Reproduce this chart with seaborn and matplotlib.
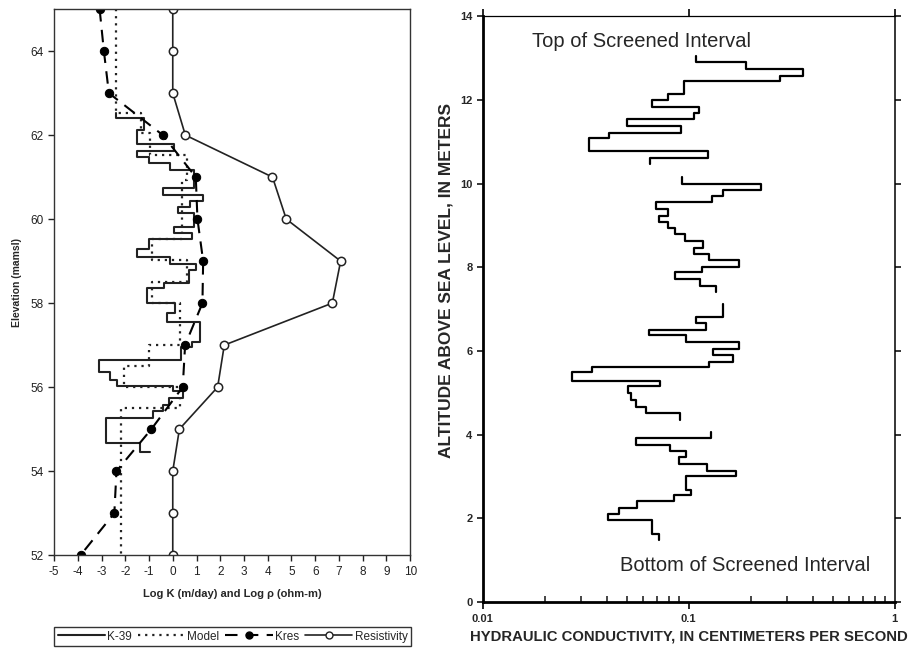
import numpy as np
import pandas as pd
import matplotlib
matplotlib.use("Agg")
import matplotlib.pyplot as plt
from matplotlib.lines import Line2D
from matplotlib.ticker import FixedLocator, FixedFormatter, NullFormatter, LogLocator
import seaborn as sns

# ---------------- data: left panel ----------------
elev_pts = [65, 64, 63, 62, 61, 60, 59, 58, 57, 56, 55, 54, 53, 52]
kres = [-3.08, -2.9, -2.69, -0.42, 0.97, 1.04, 1.28, 1.25, 0.52, 0.42, -0.9, -2.37, -2.46, -3.88]
resistivity = [0.0, 0.0, 0.0, 0.53, 4.2, 4.78, 7.07, 6.72, 2.17, 1.89, 0.28, 0.0, 0.0, 0.0]

k39_bounds = [62.53, 62.41, 62.13, 61.80, 61.63, 61.47, 61.33, 61.17, 60.75, 60.57,
              60.43, 60.28, 60.14, 59.82, 59.68, 59.52, 59.30, 59.10, 58.92, 58.80,
              58.47, 58.35, 58.00, 57.76, 57.56, 57.08, 56.95, 56.65, 56.35, 56.18,
              56.02, 55.90, 55.74, 55.57, 55.43, 55.26, 54.66, 54.45, 54.45]
k39_logk = [-2.41, -1.22, -1.5, 0.04, -1.5, -0.98, -0.1, 0.88, -0.42, 1.28,
            0.72, 0.2, 0.88, 0.04, 0.81, -0.98, -1.5, -0.1, 0.99, 0.69,
            -0.37, -1.1, 0.08, -0.24, 1.13, 0.8, 0.35, -3.12, -2.65, -2.35,
            0.0, 0.45, -0.15, -0.4, -0.85, -2.8, -1.4, -0.94]

model_bounds = [65.0, 62.53, 62.06, 61.53, 60.94, 59.52, 59.03, 58.5, 58.0, 57.0, 56.5, 56.0, 55.5, 52.0]
model_logk = [-2.41, -1.35, -0.96, 0.6, 0.4, -0.87, 0.6, -0.87, 0.32, -0.98, -2.06, 0.3, -2.2]

# ---------------- data: right panel ----------------
run1_bounds = [13.05, 12.90, 12.75, 12.57, 12.45, 12.13, 11.99, 11.83, 11.68, 11.54, 11.38, 11.22, 11.10, 10.78, 10.62, 10.46]
run1_k = [0.108, 0.190, 0.359, 0.279, 0.0948, 0.0794, 0.0664, 0.1117, 0.106, 0.050, 0.092, 0.0408, 0.0327, 0.124, 0.0646]

run2_bounds = [10.16, 10.0, 9.84, 9.71, 9.55, 9.39, 9.23, 9.09, 8.95, 8.79, 8.63, 8.47, 8.31, 8.17, 8.01, 7.88, 7.72, 7.56, 7.40]
run2_k = [0.093, 0.225, 0.146, 0.130, 0.069, 0.0794, 0.0717, 0.0794, 0.0854, 0.0954, 0.117, 0.106, 0.125, 0.175, 0.116, 0.0854, 0.113, 0.136]

run3_bounds = [7.12, 6.82, 6.66, 6.50, 6.37, 6.21, 6.05, 5.90, 5.74, 5.61, 5.49, 5.29, 5.15, 4.99, 4.83, 4.67, 4.51, 4.35]
run3_k = [0.147, 0.108, 0.122, 0.0639, 0.0973, 0.175, 0.131, 0.164, 0.125, 0.034, 0.0272, 0.0728, 0.0507, 0.0526, 0.0552, 0.0617, 0.0903]

run4_bounds = [4.07, 3.91, 3.76, 3.60, 3.46, 3.30, 3.14, 3.00, 2.68, 2.55, 2.41, 2.24, 2.09, 1.95, 1.63, 1.49]
run4_k = [0.129, 0.0552, 0.081, 0.0973, 0.0893, 0.1226, 0.169, 0.0973, 0.103, 0.0845, 0.056, 0.0458, 0.0405, 0.0664, 0.0717]

left_xticks = list(range(-5, 11))
left_yticks = [52, 54, 56, 58, 60, 62, 64]
right_yticks = [0, 2, 4, 6, 8, 10, 12, 14]
right_xticks = [0.01, 0.1, 1]
right_xticklabels = ["0.01", "0.1", "1"]


def step_frame(bounds, values, xname, yname, run=0):
    xs, ys = [], []
    for i, v in enumerate(values):
        xs += [v, v]
        ys += [bounds[i], bounds[i + 1]]
    return pd.DataFrame({xname: xs, yname: ys, "run": run})


sns.set_theme(style="ticks")
plt.rcParams["font.family"] = ["Liberation Sans", "DejaVu Sans"]
plt.rcParams["axes.unicode_minus"] = False

fig = plt.figure(figsize=(9.11, 6.5), dpi=100)

# ---------------- left panel ----------------
ax1 = fig.add_axes([0.0593, 0.146, 0.391, 0.840])
k39_df = step_frame(k39_bounds, k39_logk, "logk", "elev")
model_df = step_frame(model_bounds, model_logk, "logk", "elev")
pts_df = pd.DataFrame({"elev": elev_pts, "kres": kres, "res": resistivity})

sns.lineplot(data=model_df, x="logk", y="elev", sort=False, estimator=None, ax=ax1,
             color="#222222", lw=1.6, linestyle=(0, (1, 2.2)))
sns.lineplot(data=k39_df, x="logk", y="elev", sort=False, estimator=None, ax=ax1,
             color="#222222", lw=1.5)
sns.lineplot(data=pts_df, x="kres", y="elev", sort=False, estimator=None, ax=ax1,
             color="black", lw=1.5, linestyle=(0, (6, 4)), marker="o", markersize=6,
             markerfacecolor="black", markeredgecolor="black")
sns.lineplot(data=pts_df, x="res", y="elev", sort=False, estimator=None, ax=ax1,
             color="#222222", lw=1.2, marker="o", markersize=6,
             markerfacecolor="white", markeredgecolor="#222222", markeredgewidth=1.1)

ax1.set_xlim(-5, 10)
ax1.set_ylim(52, 65)
ax1.set_xticks(left_xticks)
ax1.set_yticks(left_yticks)
ax1.tick_params(axis="both", direction="out", length=4, width=1, labelsize=8.5, colors="#222222")
for s in ax1.spines.values():
    s.set_linewidth(1.0)
    s.set_color("#333333")
ax1.set_xlabel("Log K (m/day) and Log \u03c1 (ohm-m)", fontsize=8, fontweight="bold", labelpad=8)
ax1.set_ylabel("Elevation (mamsl)", fontsize=7.5, fontweight="bold", labelpad=6)

handles = [
    Line2D([], [], color="#222222", lw=1.5),
    Line2D([], [], color="#222222", lw=1.6, linestyle=(0, (1, 2.2))),
    Line2D([], [], color="black", lw=1.5, linestyle=(0, (6, 4)), marker="o", markersize=5),
    Line2D([], [], color="#222222", lw=1.2, marker="o", markersize=5, markerfacecolor="white"),
]
leg = fig.legend(handles, ["K-39", "Model", "Kres", "Resistivity"], ncol=4,
                 loc="lower left", bbox_to_anchor=(0.0593, 0.006, 0.392, 0.036),
                 mode="expand", fontsize=8.5, frameon=True, fancybox=False,
                 handlelength=4.0, handletextpad=0.2, columnspacing=0.3,
                 borderpad=0.3, borderaxespad=0)
leg.get_frame().set_edgecolor("black")
leg.get_frame().set_linewidth(1.0)

# ---------------- right panel ----------------
ax2 = fig.add_axes([0.530, 0.074, 0.452, 0.901])
runs = pd.concat([
    step_frame(run1_bounds, run1_k, "k", "alt", 1),
    step_frame(run2_bounds, run2_k, "k", "alt", 2),
    step_frame(run3_bounds, run3_k, "k", "alt", 3),
    step_frame(run4_bounds, run4_k, "k", "alt", 4),
], ignore_index=True)
sns.lineplot(data=runs, x="k", y="alt", units="run", sort=False, estimator=None, ax=ax2,
             color="black", lw=1.6)
ax2.set_xscale("log")
ax2.set_xlim(0.01, 1)
ax2.set_ylim(0, 14)
ax2.xaxis.set_major_locator(FixedLocator(right_xticks))
ax2.xaxis.set_major_formatter(FixedFormatter(right_xticklabels))
ax2.xaxis.set_minor_locator(LogLocator(base=10, subs=np.arange(2, 10)))
ax2.xaxis.set_minor_formatter(NullFormatter())
ax2.set_yticks(right_yticks)
ax2.tick_params(axis="x", which="major", direction="out", length=5, width=1.4,
                labelsize=8, top=True)
ax2.tick_params(axis="x", which="minor", direction="in", length=4, width=1.2)
ax2.tick_params(axis="y", which="major", direction="out", length=4, width=1.3,
                labelsize=8, right=True, labelright=False)
for lbl in ax2.get_xticklabels() + ax2.get_yticklabels():
    lbl.set_fontweight("bold")
ax2.spines["left"].set_linewidth(2.0)
ax2.spines["bottom"].set_linewidth(2.0)
ax2.spines["top"].set_linewidth(0.9)
ax2.spines["right"].set_linewidth(1.1)
for s in ax2.spines.values():
    s.set_color("black")
ax2.set_xlabel("HYDRAULIC CONDUCTIVITY, IN CENTIMETERS PER SECOND", fontsize=10.7,
               fontweight="bold", labelpad=4)
ax2.set_ylabel("ALTITUDE ABOVE SEA LEVEL, IN METERS", fontsize=12.5, fontweight="bold")
ax2.yaxis.set_label_coords(-0.072, 0.548)
ax2.text(0.059, 13.4, "Top of Screened Interval", fontsize=14.5, ha="center", va="center")
ax2.text(0.187, 0.88, "Bottom of Screened Interval", fontsize=14.5, ha="center", va="center")

fig.savefig("out.png", dpi=100, facecolor="white")
